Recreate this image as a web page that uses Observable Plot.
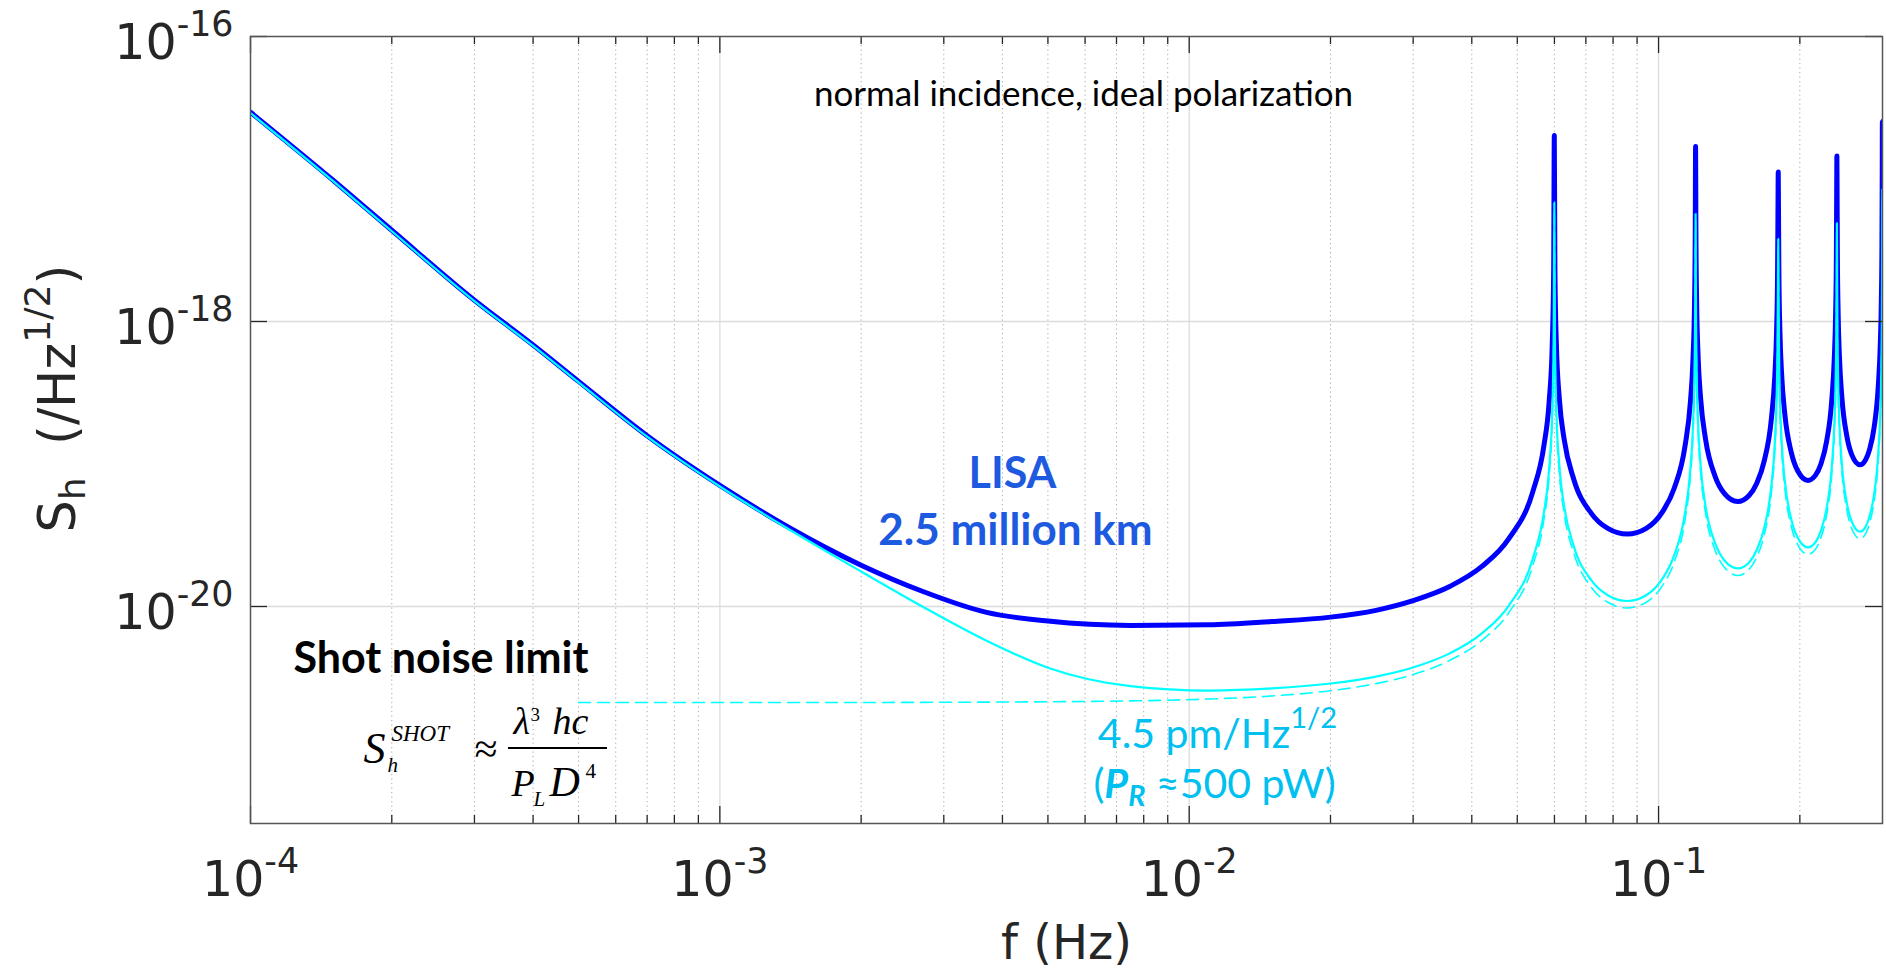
<!DOCTYPE html>
<html><head><meta charset="utf-8">
<script src="https://cdn.jsdelivr.net/npm/d3@7"></script>
<script src="https://cdn.jsdelivr.net/npm/@observablehq/plot@0.6"></script>
<style>
html,body{margin:0;padding:0;background:#fff;}
#chart{position:relative;width:1886px;height:970px;overflow:hidden;}
</style></head><body><div id="chart"></div>
<script>
// ---------------- data ----------------
const freq = [
1e-4,1.5e-4,2e-4,3e-4,4e-4,5e-4,7e-4,1e-3,1.4e-3,2e-3,2.7e-3,3.7e-3,5e-3,7.5e-3,1.1e-2,1.5e-2,2e-2,2.5e-2,
0.02998,0.03598,0.04197,0.04797,0.05396,0.05696,0.05846,0.05936,0.05978,0.05996,
0.06014,0.06056,0.06146,0.06296,0.06596,0.07195,0.07795,0.08574,0.09414,0.10193,0.10793,0.11392,0.11692,0.11842,0.11932,0.11974,0.11992,
0.1201,0.12052,0.12142,0.12292,0.12592,0.13191,0.13791,0.1475,0.1559,0.16189,0.16789,0.17388,0.17688,0.17838,0.17928,0.1797,0.17988,
0.18006,0.18048,0.18138,0.18288,0.18588,0.19187,0.19787,0.20806,0.21586,0.22185,0.22785,0.23384,0.23684,0.23834,0.23924,0.23966,0.23984,
0.24002,0.24044,0.24134,0.24284,0.24584,0.25183,0.25783,0.26862,0.27582,0.28181,0.28781,0.2938,0.2968,0.2983,0.2992,0.29962,0.2998,0.3
];
// LISA 2.5 million km (thick blue)
const lisaSh = [
2.94e-17,9.8e-18,4.37e-18,1.41e-18,6.84e-19,3.8e-19,1.58e-19,7.08e-20,3.6e-20,1.95e-20,1.28e-20,9.1e-21,7.9e-21,7.36e-21,7.44e-21,7.85e-21,8.42e-21,9.4e-21,
1.099e-20,1.387e-20,1.902e-20,2.991e-20,6.401e-20,1.335e-19,2.731e-19,6.927e-19,2.325e-18,2.02e-17,
2.339e-18,7.068e-19,2.871e-19,1.475e-19,7.824e-20,4.487e-20,3.532e-20,3.22e-20,3.536e-20,4.618e-20,6.731e-20,1.351e-19,2.74e-19,5.532e-19,1.392e-18,4.657e-18,1.69e-17,
4.67e-18,1.406e-18,5.673e-19,2.88e-19,1.494e-19,8.227e-20,6.249e-20,5.45e-20,6.009e-20,7.335e-20,1.047e-19,2.063e-19,4.145e-19,8.333e-19,2.092e-18,6.989e-18,1.12e-17,
7.003e-18,2.106e-18,8.474e-19,4.285e-19,2.205e-19,1.197e-19,8.966e-20,7.661e-20,8.32e-20,1.005e-19,1.421e-19,2.774e-19,5.55e-19,1.113e-18,2.792e-18,9.32e-18,1.45e-17,
9.335e-18,2.806e-18,1.128e-18,5.69e-19,2.916e-19,1.571e-19,1.168e-19,9.866e-20,1.063e-19,1.277e-19,1.795e-19,3.485e-19,6.955e-19,1.394e-18,3.492e-18,1.165e-17,2.53e-17,1.06e-17
];
// 4.5 pm/Hz^1/2 limit (thin cyan)
const limitSh = [
2.9e-17,9.65e-18,4.3e-18,1.39e-18,6.74e-19,3.74e-19,1.555e-19,6.95e-20,3.5e-20,1.76e-20,1.0e-20,5.75e-21,3.72e-21,2.76e-21,2.57e-21,2.66e-21,2.88e-21,3.22e-21,
3.73e-21,4.706e-21,6.454e-21,1.015e-20,2.173e-20,4.53e-20,9.27e-20,2.351e-19,7.89e-19,6.85e-18,
7.94e-19,2.399e-19,9.745e-20,5.007e-20,2.655e-20,1.523e-20,1.199e-20,1.093e-20,1.2e-20,1.567e-20,2.284e-20,4.586e-20,9.3e-20,1.878e-19,4.726e-19,1.58e-18,5.7e-18,
1.585e-18,4.773e-19,1.925e-19,9.775e-20,5.069e-20,2.792e-20,2.121e-20,1.85e-20,2.039e-20,2.49e-20,3.553e-20,7.0e-20,1.407e-19,2.828e-19,7.1e-19,2.372e-18,3.8e-18,
2.377e-18,7.148e-19,2.876e-19,1.454e-19,7.483e-20,4.061e-20,3.043e-20,2.6e-20,2.824e-20,3.412e-20,4.823e-20,9.415e-20,1.883e-19,3.779e-19,9.475e-19,3.163e-18,4.9e-18,
3.168e-18,9.523e-19,3.827e-19,1.931e-19,9.897e-20,5.33e-20,3.965e-20,3.348e-20,3.608e-20,4.334e-20,6.092e-20,1.183e-19,2.36e-19,4.73e-19,1.185e-18,3.955e-18,8.5e-18,3.6e-18
];
// shot noise alone (dashed cyan)
const shotFreq = freq.slice(5);
const shotSh = [
2.12e-21,2.12e-21,2.12e-21,2.12e-21,2.121e-21,2.125e-21,2.133e-21,2.145e-21,2.175e-21,2.242e-21,2.355e-21,2.564e-21,2.875e-21,
3.33e-21,4.202e-21,5.763e-21,9.065e-21,1.94e-20,4.045e-20,8.276e-20,2.099e-19,7.045e-19,6.1e-18,
7.088e-19,2.142e-19,8.701e-20,4.47e-20,2.371e-20,1.36e-20,1.07e-20,9.759e-21,1.0714e-20,1.3995e-20,2.0396e-20,4.095e-20,8.302e-20,1.6765e-19,4.219e-19,1.411e-18,5.1e-18,
1.415e-18,4.262e-19,1.719e-19,8.728e-20,4.526e-20,2.493e-20,1.8935e-20,1.6514e-20,1.8208e-20,2.2228e-20,3.173e-20,6.25e-20,1.256e-19,2.525e-19,6.34e-19,2.118e-18,3.4e-18,
2.122e-18,6.382e-19,2.568e-19,1.2985e-19,6.681e-20,3.626e-20,2.717e-20,2.3214e-20,2.521e-20,3.046e-20,4.306e-20,8.406e-20,1.6817e-19,3.374e-19,8.46e-19,2.8245e-18,4.4e-18,
2.829e-18,8.502e-19,3.4166e-19,1.7243e-19,8.837e-20,4.759e-20,3.54e-20,2.9896e-20,3.221e-20,3.869e-20,5.439e-20,1.0561e-19,2.1075e-19,4.223e-19,1.058e-18,3.531e-18,7.6e-18,3.21e-18
];
const xMajor = [1e-4,1e-3,1e-2,1e-1];
const xTickLabels = ["10^{-4}","10^{-3}","10^{-2}","10^{-1}"];
const xMinor = [2e-4,3e-4,4e-4,5e-4,6e-4,7e-4,8e-4,9e-4,2e-3,3e-3,4e-3,5e-3,6e-3,7e-3,8e-3,9e-3,2e-2,3e-2,4e-2,5e-2,6e-2,7e-2,8e-2,9e-2,2e-1];
const yMajor = [1e-16,1e-18,1e-20];
const yTickLabels = ["10^{-16}","10^{-18}","10^{-20}"];

// ---------------- chart ----------------
const W = 1886, H = 970, mL = 250, mR = 4, mT = 36, mB = 147;
const iW = W - mL - mR, iH = H - mT - mB;
const lisa = freq.map((f, i) => ({f, v: lisaSh[i]}));
const limit = freq.map((f, i) => ({f, v: limitSh[i]}));
const shot = shotFreq.map((f, i) => ({f, v: shotSh[i]}));

const sans = "'DejaVu Sans', Verdana, sans-serif";
const cal = "Lato, 'Open Sans', sans-serif";
const serif = "'Liberation Serif', 'Times New Roman', serif";
// place a text so that its baseline sits at absolute (X, Y)
function at(X, Y, fs, extra = {}) {
  return {frameAnchor: "top-left", dx: X - mL, dy: Y - mT - 0.32 * fs, fontSize: fs, lineAnchor: "middle", ...extra};
}
function label(str, X, Y, fs, extra) {
  return Plot.text([str], {text: d => d, ...at(X, Y, fs, extra)});
}

const plot = Plot.plot({
  width: W, height: H,
  marginLeft: mL, marginRight: mR, marginTop: mT, marginBottom: mB,
  style: {background: "#fff", fontFamily: sans, color: "#262626", overflow: "visible"},
  x: {type: "log", domain: [1e-4, 0.3]},
  y: {type: "log", domain: [3e-22, 1e-16]},
  marks: [
    Plot.ruleX(xMinor, {x: d => d, stroke: "#a6a6a6", strokeWidth: 1, strokeDasharray: "1.2,3.3"}),
    Plot.ruleX(xMajor.slice(1), {x: d => d, stroke: "#dcdcdc", strokeWidth: 1.3}),
    Plot.ruleY(yMajor.slice(1), {y: d => d, stroke: "#dcdcdc", strokeWidth: 1.3}),
    Plot.line(lisa, {x: "f", y: "v", stroke: "#0000ff", strokeWidth: 5, curve: "monotone-x", clip: true}),
    Plot.line(shot, {x: "f", y: "v", stroke: "#00ffff", strokeWidth: 1.6, strokeDasharray: "12,7", curve: "monotone-x", clip: true}),
    Plot.line(limit, {x: "f", y: "v", stroke: "#00ffff", strokeWidth: 2.2, curve: "monotone-x", clip: true}),
    Plot.tickX(xMajor, {x: d => d, insetTop: iH - 17, stroke: "#262626", strokeWidth: 1.3}),
    Plot.tickX(xMajor, {x: d => d, insetBottom: iH - 17, stroke: "#262626", strokeWidth: 1.3}),
    Plot.tickX(xMinor, {x: d => d, insetTop: iH - 8, stroke: "#262626", strokeWidth: 1.3}),
    Plot.tickX(xMinor, {x: d => d, insetBottom: iH - 8, stroke: "#262626", strokeWidth: 1.3}),
    Plot.tickY(yMajor, {y: d => d, insetRight: iW - 17, stroke: "#262626", strokeWidth: 1.3}),
    Plot.tickY(yMajor, {y: d => d, insetLeft: iW - 17, stroke: "#262626", strokeWidth: 1.3}),
    Plot.frame({stroke: "#555", strokeWidth: 1.5}),
    Plot.axisX(xMajor, {tickSize: 0, tickPadding: 38, tickFormat: d => xTickLabels[xMajor.indexOf(d)], fontSize: 49, fontFamily: sans, fill: "#262626", label: null}),
    Plot.axisY(yMajor, {tickSize: 0, tickPadding: 17, dy: 7, tickFormat: d => yTickLabels[yMajor.indexOf(d)], fontSize: 49, fontFamily: sans, fill: "#262626", label: null}),
    // axis titles
    label("f (Hz)", 1066, 958, 48, {textAnchor: "middle", fill: "#262626", fontFamily: sans}),
    Plot.text(["S_{h}  (/Hz^{1/2})"], {text: d => d, frameAnchor: "top-left", dx: 58 - mL, dy: 398 - mT, rotate: -90, fontSize: 51, textAnchor: "middle", lineAnchor: "middle", fill: "#262626", fontFamily: sans}),
    // annotations
    label("normal incidence, ideal polarization", 1083, 105, 35, {textAnchor: "middle", fill: "#000", fontFamily: cal}),
    label("LISA", 1012, 487, 43, {textAnchor: "middle", fill: "#1e5ae0", fontFamily: cal, fontWeight: "bold"}),
    label("2.5 million km", 1015, 544, 44, {textAnchor: "middle", fill: "#1e5ae0", fontFamily: cal, fontWeight: "bold"}),
    label("Shot noise limit", 293, 672, 43, {textAnchor: "start", fill: "#000", fontFamily: cal, fontWeight: "bold"}),
    label("4.5 pm/Hz^{1/2}", 1217, 747, 41, {textAnchor: "middle", fill: "#00c0f0", fontFamily: cal}),
    label("(!{P}#{R} ≈500 pW)", 1214, 797, 41, {textAnchor: "middle", fill: "#00c0f0", fontFamily: cal}),
    // formula
    label("S", 363, 762, 44, {textAnchor: "start", fill: "#000", fontFamily: serif, fontStyle: "italic"}),
    label("SHOT", 391, 740, 23, {textAnchor: "start", fill: "#000", fontFamily: serif, fontStyle: "italic"}),
    label("h", 387, 771, 21, {textAnchor: "start", fill: "#000", fontFamily: serif, fontStyle: "italic"}),
    label("≈", 474, 762, 42, {textAnchor: "start", fill: "#000", fontFamily: serif}),
    label("λ", 513, 733, 38, {textAnchor: "start", fill: "#000", fontFamily: serif, fontStyle: "italic"}),
    label("3", 530, 720, 19, {textAnchor: "start", fill: "#000", fontFamily: serif}),
    label("hc", 552, 733, 38, {textAnchor: "start", fill: "#000", fontFamily: serif, fontStyle: "italic"}),
    label("P", 511, 795, 38, {textAnchor: "start", fill: "#000", fontFamily: serif, fontStyle: "italic"}),
    label("L", 533, 805, 21, {textAnchor: "start", fill: "#000", fontFamily: serif, fontStyle: "italic"}),
    label("D", 549, 795, 42, {textAnchor: "start", fill: "#000", fontFamily: serif, fontStyle: "italic"}),
    label("4", 585, 777, 21, {textAnchor: "start", fill: "#000", fontFamily: serif})
  ]
});
document.getElementById("chart").appendChild(plot);

// fraction bar of the formula
d3.select(plot).append("line")
  .attr("x1", 508).attr("x2", 607).attr("y1", 748).attr("y2", 748)
  .attr("stroke", "#000").attr("stroke-width", 2);

// rich text: ^{sup} _{sub} !{bold italic} #{bold italic sub}
function richify(el) {
  const str = el.textContent;
  const base = parseFloat(getComputedStyle(el).fontSize) || 16;
  const re = /([\^_!#])\{([^}]*)\}/g;
  const segs = []; let last = 0, m;
  while ((m = re.exec(str))) {
    if (m.index > last) segs.push({t: str.slice(last, m.index), k: ""});
    segs.push({t: m[2], k: m[1]});
    last = re.lastIndex;
  }
  if (last < str.length) segs.push({t: str.slice(last), k: ""});
  while (el.firstChild) el.removeChild(el.firstChild);
  let shift = 0;
  for (const s of segs) {
    const ts = document.createElementNS("http://www.w3.org/2000/svg", "tspan");
    let target = 0, fs = base;
    if (s.k === "^") { target = -0.48 * base; fs = 0.71 * base; }
    if (s.k === "_") { target = 0.2 * base; fs = 0.7 * base; }
    if (s.k === "#") { target = 0.2 * base; fs = 0.7 * base; }
    if (s.k === "!" || s.k === "#") { ts.setAttribute("font-weight", "bold"); ts.setAttribute("font-style", "italic"); }
    if (target - shift !== 0) ts.setAttribute("dy", target - shift);
    shift = target;
    ts.setAttribute("font-size", fs);
    ts.textContent = s.t;
    el.appendChild(ts);
  }
}
plot.querySelectorAll("text").forEach(el => {
  if (/[\^_!#]\{/.test(el.textContent)) richify(el);
});
</script></body></html>
